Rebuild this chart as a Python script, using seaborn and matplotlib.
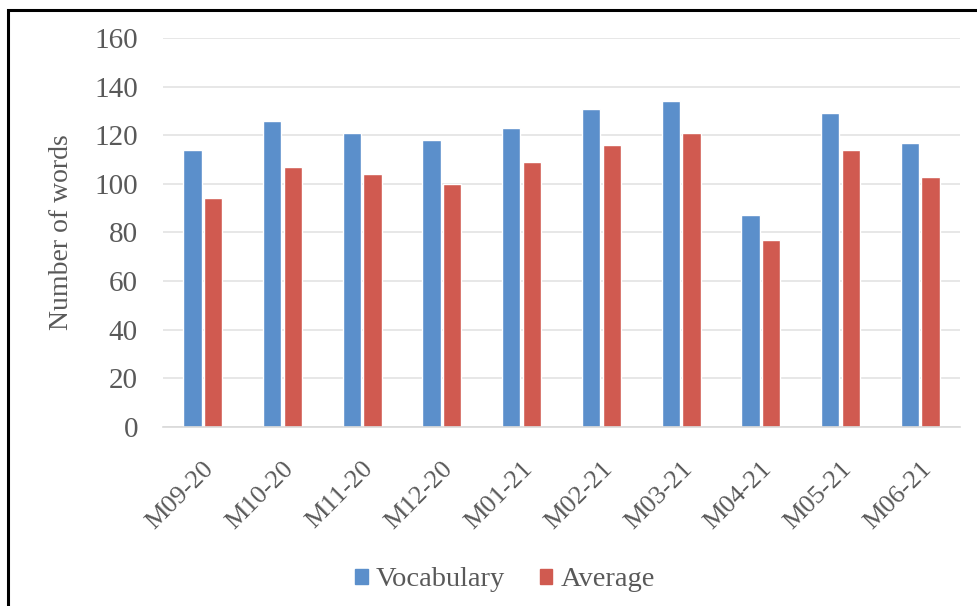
import matplotlib
matplotlib.use("Agg")
import matplotlib.pyplot as plt
import matplotlib.patches as mpatches
import numpy as np
import pandas as pd
import seaborn as sns

months = ["M09-20", "M10-20", "M11-20", "M12-20", "M01-21",
          "M02-21", "M03-21", "M04-21", "M05-21", "M06-21"]
vocabulary = [114, 126, 121, 118, 123, 131, 134, 87, 129, 117]
average = [94, 107, 104, 100, 109, 116, 121, 77, 114, 103]
series_names = ["Vocabulary", "Average"]
y_ticks = [0, 20, 40, 60, 80, 100, 120, 140, 160]

df = pd.DataFrame({
    "month": months * 2,
    "words": vocabulary + average,
    "series": [series_names[0]] * len(months) + [series_names[1]] * len(months),
})

sns.set_theme(style="white")
plt.rcParams["font.family"] = ["Liberation Serif", "DejaVu Serif"]

text_gray = "#595959"
palette = {"Vocabulary": "#5B8FCB", "Average": "#D05A50"}

fig = plt.figure(figsize=(9.78, 6.06), dpi=100)
ax = fig.add_axes([163 / 978, 1 - 427 / 606, (960 - 163) / 978, (427 - 38) / 606])

sns.barplot(data=df, x="month", y="words", hue="series", order=months,
            hue_order=series_names, palette=palette, width=0.52, gap=0.12,
            saturation=1, ax=ax, legend=False)

ax.set_ylim(0, 160)
ax.set_xlim(-0.5, len(months) - 0.5)
ax.set_yticks(y_ticks)
ax.set_yticklabels([str(t) for t in y_ticks], fontsize=21, color=text_gray)
ax.yaxis.grid(True, color="#E3E3E3", linewidth=1.2)
ax.set_axisbelow(True)
for side in ["top", "right", "left"]:
    ax.spines[side].set_visible(False)
ax.spines["bottom"].set_color("#D9D9D9")
ax.spines["bottom"].set_linewidth(1.2)
ax.tick_params(axis="y", length=0, pad=18)

# Category labels, slanted, with small separators between groups
ax.set_xticks(range(len(months)))
ax.set_xticklabels(months, rotation=45, ha="right", rotation_mode="anchor",
                   fontsize=19, color=text_gray)
ax.tick_params(axis="x", which="major", length=0, pad=22)
ax.set_xticks(np.arange(-0.5, len(months), 1.0), minor=True)
ax.tick_params(axis="x", which="minor", length=5, color="#D9D9D9", width=1)

ax.set_xlabel("")
ax.set_ylabel("Number of words", fontsize=20, color=text_gray)
ax.yaxis.set_label_coords(-0.112, 0.5)

handles = [mpatches.Patch(color=palette[n], label=n) for n in series_names]
fig.legend(handles=handles, loc="center", bbox_to_anchor=(505 / 978, 1 - 580 / 606),
           ncol=2, frameon=False, fontsize=20.5, handlelength=0.45, handleheight=0.45,
           handletextpad=0.3, columnspacing=1.2, labelcolor=text_gray)

# Chart area frame
fig.patches.append(mpatches.Rectangle((8 / 978, -0.01), 1.0, 1 - 10 / 606 + 0.01,
                                      transform=fig.transFigure, fill=False,
                                      edgecolor="black", linewidth=2.2))

fig.savefig("out.png", dpi=100)
